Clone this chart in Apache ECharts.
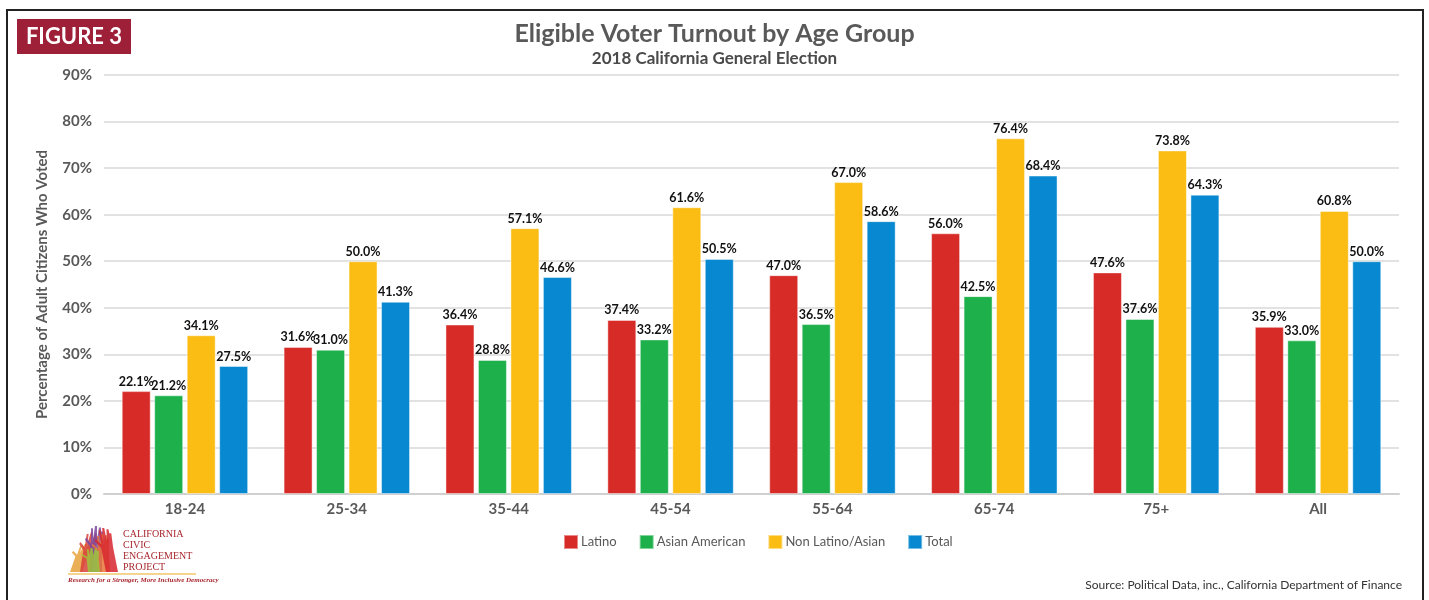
<!DOCTYPE html>
<html><head><meta charset="utf-8">
<script src="https://cdn.jsdelivr.net/npm/echarts@6/dist/echarts.min.js"></script>
<style>html,body{margin:0;padding:0;background:#fff}#c{width:1429px;height:600px}</style>
</head><body><div id="c"></div>
<script>
const categories = ['18-24','25-34','35-44','45-54','55-64','65-74','75+','All'];
const latino = [22.1,31.6,36.4,37.4,47.0,56.0,47.6,35.9];
const asianAmerican = [21.2,31.0,28.8,33.2,36.5,42.5,37.6,33.0];
const nonLatinoAsian = [34.1,50.0,57.1,61.6,67.0,76.4,73.8,60.8];
const total = [27.5,41.3,46.6,50.5,58.6,68.4,64.3,50.0];
const seriesNames = ['Latino','Asian American','Non Latino/Asian','Total'];
const colors = ['#d72b27','#1db04b','#fbbd14','#0788d0'];
const F = 'Lato, "Open Sans", sans-serif';

function hand(cx, by, h, tilt, color){
  const w = 12;
  const pts = [];
  const t = tilt;
  const P = (x,y)=>[cx + x + t*(by-y), y];
  pts.push(P(-w/2, by), P(-w/2, by-h*0.55), P(-w/2-5, by-h*0.7), P(-w/2-4, by-h*0.75), P(-w/2+1, by-h*0.62),
           P(-w/2+1, by-h*0.95), P(-w/2+3, by-h*0.95), P(-w/2+3, by-h*0.7),
           P(-1, by-h), P(1, by-h), P(1, by-h*0.7),
           P(3, by-h*0.97), P(5, by-h*0.97), P(5, by-h*0.7),
           P(w/2-1, by-h*0.88), P(w/2+1, by-h*0.88), P(w/2, by-h*0.55), P(w/2, by));
  return {type:'polygon', shape:{points:pts}, style:{fill:color, opacity:0.85}};
}

const chart = echarts.init(document.getElementById('c'));
const mk = (name, data, i) => ({
  name, type:'bar', data, barWidth:29, barGap:'12%',
  itemStyle:{color:colors[i], borderColor:'rgba(255,255,255,0.45)', borderWidth:1},
  label:{show:true, position:'top', distance:3, formatter:p=>p.value.toFixed(1)+'%',
         color:'#111', fontWeight:'bold', fontSize:12.5, fontFamily:F},
  emphasis:{disabled:true}
});
chart.setOption({
  animation:false,
  color:colors,
  title:[
    {text:'Eligible Voter Turnout by Age Group', left:'center', top:16,
     textStyle:{fontFamily:F, fontWeight:'bold', fontSize:25, color:'#595959'}},
    {text:'2018 California General Election', left:'center', top:45,
     textStyle:{fontFamily:F, fontWeight:'bold', fontSize:17, color:'#4a4a4a'}}
  ],
  legend:{bottom:45, left:558, itemWidth:14, itemHeight:14, itemGap:22, icon:'rect',
    textStyle:{fontFamily:F, fontSize:13, color:'#595959', padding:[0,0,0,-2]}, data:seriesNames},
  grid:{left:104, right:30, top:75, bottom:106},
  xAxis:{type:'category', data:categories,
    axisLine:{lineStyle:{color:'#d0d0d0', width:2}}, axisTick:{show:false},
    axisLabel:{fontFamily:F, fontWeight:'bold', fontSize:15, color:'#595959', margin:8}},
  yAxis:{type:'value', min:0, max:90, interval:10,
    name:'Percentage of Adult Citizens Who Voted', nameLocation:'middle', nameGap:54,
    nameTextStyle:{fontFamily:F, fontWeight:'bold', fontSize:15, color:'#595959'},
    axisLabel:{formatter:'{value}%', fontFamily:F, fontWeight:'bold', fontSize:15, color:'#595959', margin:12},
    splitLine:{lineStyle:{color:'#d9d9d9', width:1.5}}},
  series:[mk(seriesNames[0],latino,0), mk(seriesNames[1],asianAmerican,1), mk(seriesNames[2],nonLatinoAsian,2), mk(seriesNames[3],total,3)],
  graphic:[
    {type:'rect', shape:{x:7,y:10,width:1416,height:600}, style:{fill:'none', stroke:'#222', lineWidth:2}, silent:true},
    {type:'rect', shape:{x:17,y:19,width:114,height:35}, style:{fill:'#9e1f38'}},
    {type:'text', x:74, y:36.5, style:{text:'FIGURE 3', fill:'#fff', font:'bold 22px '+F, align:'center', verticalAlign:'middle'}},
    hand(76, 572, 28, 0.35, '#e8a23a'),
    hand(86, 572, 40, 0.15, '#d8413a'),
    hand(96, 572, 46, 0.0, '#7d4aa0'),
    hand(104, 572, 38, -0.05, '#e8743a'),
    hand(112, 572, 44, -0.2, '#d7262e'),
    hand(94, 572, 24, -0.1, '#9fc43a'),
    {type:'line', shape:{x1:68,y1:574,x2:196,y2:574}, style:{stroke:'#f2c66a', lineWidth:1.5}},
    {type:'text', x:123, y:529, style:{text:'CALIFORNIA\nCIVIC\nENGAGEMENT\nPROJECT', fill:'#a8262e', font:'10px "Liberation Serif", serif', lineHeight:11}},
    {type:'text', x:68, y:577, style:{text:'Research for a Stronger, More Inclusive Democracy', fill:'#a8262e', font:'italic bold 7px "Liberation Serif", serif'}},
    {type:'text', x:1402, y:585, style:{text:'Source: Political Data, inc., California Department of Finance', fill:'#333', font:'12px '+F, align:'right', verticalAlign:'middle'}}
  ]
});
</script></body></html>
